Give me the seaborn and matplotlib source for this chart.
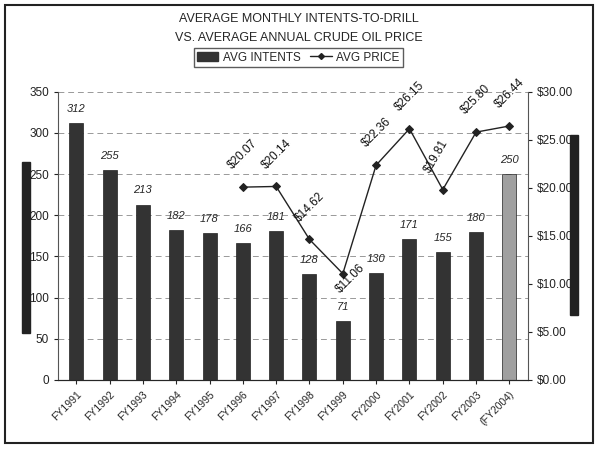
import numpy as np
import pandas as pd
import matplotlib
matplotlib.use("Agg")
import matplotlib.pyplot as plt
import seaborn as sns
from matplotlib.patches import Rectangle
from matplotlib.lines import Line2D

years = ['FY1991', 'FY1992', 'FY1993', 'FY1994', 'FY1995', 'FY1996', 'FY1997',
         'FY1998', 'FY1999', 'FY2000', 'FY2001', 'FY2002', 'FY2003', '(FY2004)']
intents = [312, 255, 213, 182, 178, 166, 181, 128, 71, 130, 171, 155, 180, 250]
price_years = ['FY1996', 'FY1997', 'FY1998', 'FY1999', 'FY2000', 'FY2001',
               'FY2002', 'FY2003', '(FY2004)']
prices = [20.07, 20.14, 14.62, 11.06, 22.36, 26.15, 19.81, 25.80, 26.44]

sns.set_style('white')
plt.rcParams['font.family'] = ['Liberation Sans Narrow', 'Liberation Sans', 'DejaVu Sans']

bars = pd.DataFrame({'year': years, 'intents': intents})
line = pd.DataFrame({'pos': [years.index(y) for y in price_years], 'price': prices})

fig = plt.figure(figsize=(5.97, 4.5), dpi=100)
ax = fig.add_axes([0.097, 0.156, 0.787, 0.640])

bar_colors = ['#333333'] * (len(years) - 1) + ['#a0a0a0']
sns.barplot(data=bars, x='year', y='intents', hue='year', palette=bar_colors,
            legend=False, width=0.42, ax=ax, saturation=1)
for p in ax.patches:
    p.set_edgecolor('#222222')
    p.set_linewidth(0.5)

ax.set_ylim(0, 350)
ax.set_yticks(range(0, 351, 50))
ax.set_xlim(-0.55, len(years) - 0.45)
ax.yaxis.grid(True, linestyle=(0, (6, 4)), color='#999999', linewidth=0.7)
ax.set_axisbelow(True)
ax.set_xlabel('')
ax.set_ylabel('')
for s in ['top', 'right']:
    ax.spines[s].set_visible(False)
ax.spines['left'].set_color('#555555')
ax.spines['bottom'].set_color('#333333')
ax.tick_params(axis='y', labelsize=8.5, colors='#222222', length=3, left=True)
ax.tick_params(axis='x', labelsize=7.5, length=3, bottom=True, pad=4)
plt.setp(ax.get_xticklabels(), rotation=45, ha='right', rotation_mode='anchor')

for i, v in enumerate(intents):
    ax.text(i, v + 11, str(v), ha='center', va='bottom', fontsize=8, style='italic')

ax2 = ax.twinx()
sns.lineplot(data=line, x='pos', y='price', color='#222222', marker='D',
             markersize=4, linewidth=1, markeredgecolor='#222222', ax=ax2)
ax2.set_ylim(0, 30)
ax2.set_yticks(range(0, 31, 5))
ax2.set_yticklabels([f'${v:.2f}' for v in range(0, 31, 5)])
ax2.set_ylabel('')
ax2.set_xlabel('')
for s in ['top', 'left']:
    ax2.spines[s].set_visible(False)
ax2.spines['right'].set_color('#555555')
ax2.tick_params(axis='y', labelsize=8.5, colors='#222222', length=3, right=True)

for x, v in zip(line['pos'], line['price']):
    dx, dy, rot = -0.25, 1.6, 45
    if v == 11.06:
        dx, dy = -0.03, -2.3
    elif v == 19.81:
        dx, dy, rot = -0.3, 1.5, 60
    ax2.text(x + dx, v + dy, f'${v:.2f}', ha='left', va='bottom', fontsize=8.5,
             rotation=rot, rotation_mode='anchor', color='#111111')

fig.text(0.5, 0.958, 'AVERAGE MONTHLY INTENTS-TO-DRILL', ha='center', va='center', fontsize=9)
fig.text(0.5, 0.916, 'VS. AVERAGE ANNUAL CRUDE OIL PRICE', ha='center', va='center', fontsize=9)

handles = [Rectangle((0, 0), 1, 1, color='#333333'),
           Line2D([0], [0], color='#222222', marker='D', markersize=3, linewidth=1)]
fig.legend(handles, ['AVG INTENTS', 'AVG PRICE'], loc='center', bbox_to_anchor=(0.5, 0.872),
           ncol=2, fontsize=8.5, frameon=True, edgecolor='#333333', fancybox=False,
           handlelength=1.8, columnspacing=0.8, handletextpad=0.4, borderpad=0.3)

# dark side markers and border from the scanned original
fig.patches.append(Rectangle((0.037, 0.26), 0.014, 0.38, transform=fig.transFigure,
                             color='#222222', zorder=0))
fig.patches.append(Rectangle((0.955, 0.30), 0.013, 0.40, transform=fig.transFigure,
                             color='#222222', zorder=0))
fig.patches.append(Rectangle((0.008, 0.015), 0.985, 0.975, transform=fig.transFigure,
                             fill=False, edgecolor='#222222', linewidth=1.5))

fig.savefig('out.png', dpi=100)
